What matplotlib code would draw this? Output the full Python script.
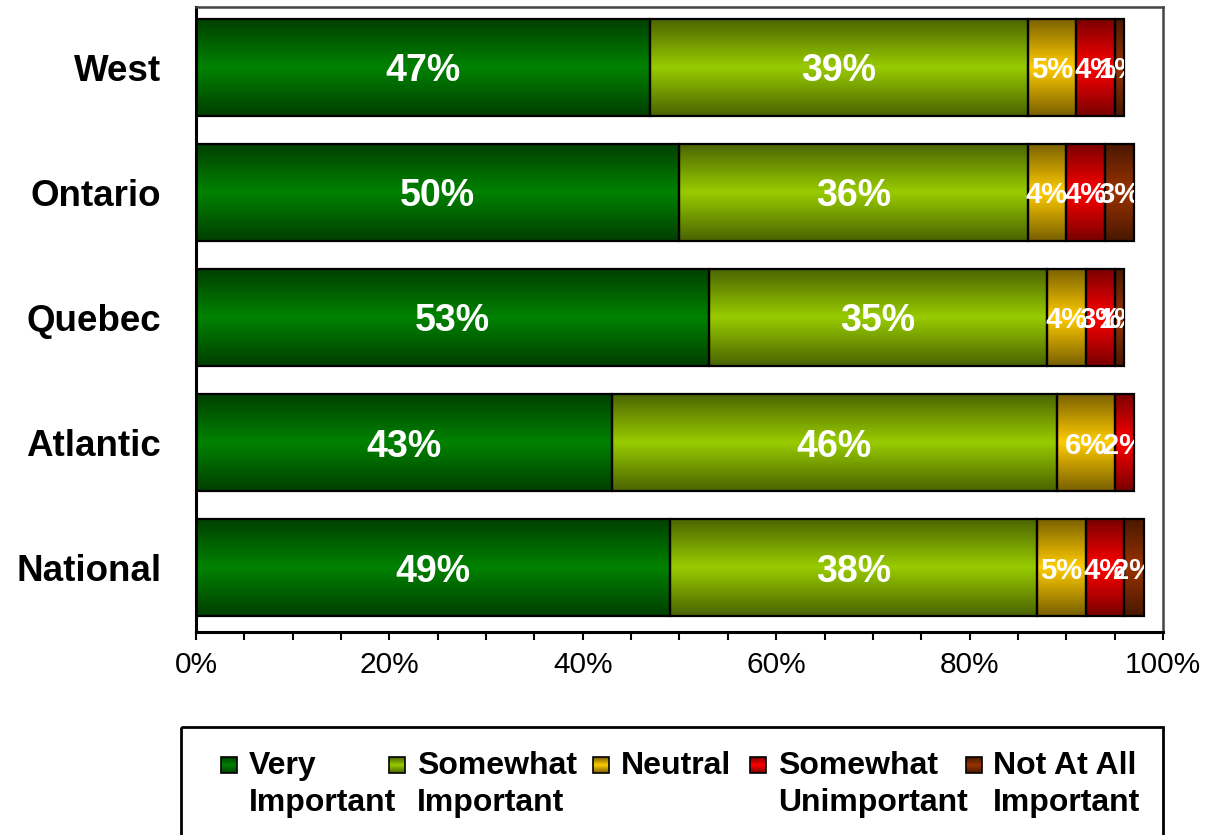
import numpy as np
import matplotlib.pyplot as plt
from matplotlib.patches import Rectangle
from matplotlib.transforms import Bbox, TransformedBbox
from matplotlib.colors import to_rgb

plt.rcParams['font.family'] = ['Liberation Sans', 'DejaVu Sans']

# ---- data ----
regions = ['National', 'Atlantic', 'Quebec', 'Ontario', 'West']
very_important = [49, 43, 53, 50, 47]
somewhat_important = [38, 46, 35, 36, 39]
neutral = [5, 6, 4, 4, 5]
somewhat_unimportant = [4, 2, 3, 4, 4]
not_at_all_important = [2, 0, 1, 3, 1]
series_names = ['Very\nImportant', 'Somewhat\nImportant', 'Neutral',
                'Somewhat\nUnimportant', 'Not At All\nImportant']
xtick_values = [0, 20, 40, 60, 80, 100]
xtick_labels = ['0%', '20%', '40%', '60%', '80%', '100%']

series = [very_important, somewhat_important, neutral,
          somewhat_unimportant, not_at_all_important]
center_colors = ['#008200', '#99CC00', '#FFCC00', '#FF0000', '#993300']
edge_colors = ['#003F00', '#4A6400', '#7A6000', '#7A0000', '#4A1800']


def gradient(center, edge, n=64):
    c = np.array(to_rgb(center))
    e = np.array(to_rgb(edge))
    t = np.linspace(-1, 1, n)
    w = 1 - np.abs(t)
    arr = e[None, :] + (c - e)[None, :] * w[:, None]
    return arr[:, None, :]


grads = [gradient(c, e) for c, e in zip(center_colors, edge_colors)]

W, H = 1207, 835
fig = plt.figure(figsize=(W / 100, H / 100), dpi=100)
ax = fig.add_axes([196 / W, 1 - 632 / H, (1163 - 196) / W, (632 - 7) / H])

bar_h = 0.776
ypos = np.arange(len(regions))
for i, y in enumerate(ypos):
    total = sum(s[i] for s in series)
    clip = TransformedBbox(Bbox([[0, y - bar_h / 2], [total, y + bar_h / 2]]), ax.transData)
    left = 0
    for k, vals in enumerate(series):
        v = vals[i]
        if v > 0:
            ax.imshow(grads[k], extent=[left, left + v, y - bar_h / 2, y + bar_h / 2],
                      aspect='auto', interpolation='bilinear', zorder=2)
            ax.add_patch(Rectangle((left, y - bar_h / 2), v, bar_h, fill=False,
                                   ec='black', lw=1.6, zorder=3))
            t = ax.text(left + v / 2, y, f'{v}%', ha='center', va='center_baseline',
                        color='white', fontweight='bold',
                        fontsize=27 if v >= 10 else 21, zorder=4)
            t.set_clip_box(clip)
            t.set_clip_on(True)
        left += v

ax.set_xlim(0, 100)
ax.set_ylim(-0.512, 4.48)
ax.set_yticks(ypos)
ax.set_yticklabels(regions, fontsize=26.5, fontweight='bold')
ax.tick_params(axis='y', length=0, pad=25)
ax.set_xticks(xtick_values)
ax.set_xticklabels(xtick_labels, fontsize=21.5)
ax.set_xticks(np.arange(0, 101, 5), minor=True)
ax.tick_params(axis='x', which='both', direction='out', length=6, width=1.5, pad=8)
for side in ['left', 'bottom']:
    ax.spines[side].set_color('black')
    ax.spines[side].set_linewidth(2.2)
for side in ['top', 'right']:
    ax.spines[side].set_color('#444444')
    ax.spines[side].set_linewidth(1.8)

# ---- legend (drawn in a pixel-coordinate overlay) ----
lax = fig.add_axes([0, 0, 1, 1])
lax.set_xlim(0, W)
lax.set_ylim(H, 0)
lax.axis('off')
lax.add_patch(Rectangle((181, 727), 1163 - 181, 120, fill=False, ec='black', lw=2))
marker_x = [221, 389, 593, 750, 966]
text_x = [249, 417, 621, 778, 993]
for k, name in enumerate(series_names):
    mx = marker_x[k]
    lax.imshow(grads[k], extent=[mx, mx + 16, 773, 757], aspect='auto',
               interpolation='bilinear', zorder=2)
    lax.add_patch(Rectangle((mx, 757), 16, 16, fill=False, ec='black', lw=1.2, zorder=3))
    lax.text(text_x[k], 751, name, ha='left', va='top', fontsize=23,
             fontweight='bold', linespacing=1.3)
lax.set_xlim(0, W)
lax.set_ylim(H, 0)

fig.savefig('out.png', dpi=100)
